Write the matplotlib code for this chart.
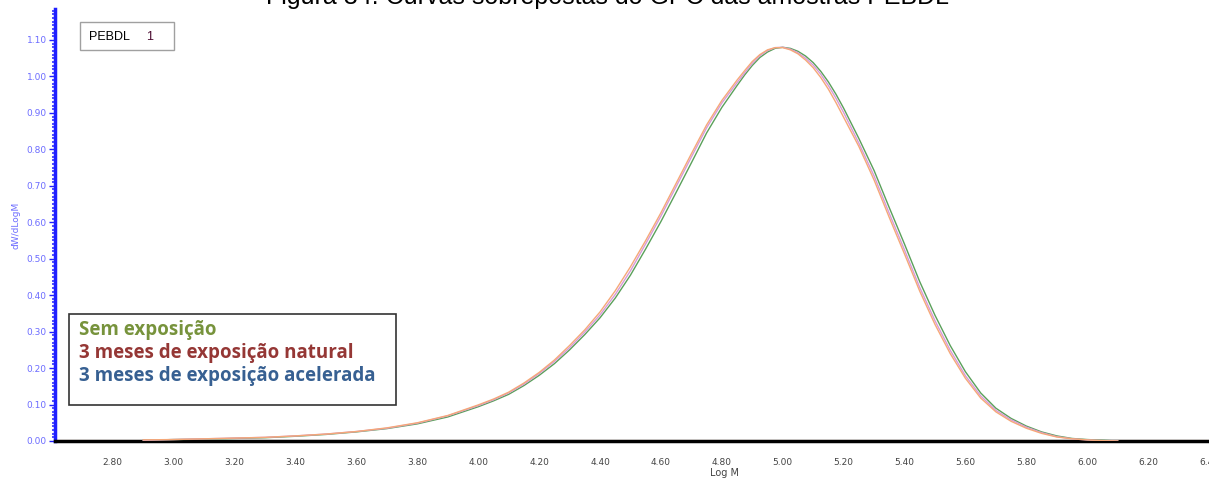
import matplotlib
matplotlib.use('Agg')
import matplotlib.pyplot as plt
from matplotlib.ticker import MultipleLocator, FormatStrFormatter
from matplotlib.patches import Rectangle

# Log M grid, finer near the peak
logM = [2.90, 3.00, 3.10, 3.20, 3.30, 3.40, 3.50, 3.60, 3.70, 3.80, 3.90,
        4.00, 4.05, 4.10, 4.15, 4.20, 4.25, 4.30, 4.35, 4.40, 4.45,
        4.50, 4.55, 4.60, 4.65, 4.70, 4.75, 4.80,
        4.85, 4.875, 4.90, 4.925, 4.95, 4.975, 5.00, 5.025, 5.05, 5.075,
        5.10, 5.125, 5.15, 5.175, 5.20,
        5.25, 5.30, 5.35, 5.40, 5.45,
        5.50, 5.55, 5.60, 5.65, 5.70, 5.75, 5.80, 5.85, 5.90, 5.95,
        6.00, 6.05, 6.10]

# dW/dLogM - Sem exposicao (green trace)
sem_exp = [0.002, 0.004, 0.005, 0.007, 0.009, 0.013, 0.018, 0.025, 0.034, 0.047, 0.066,
           0.094, 0.110, 0.128, 0.152, 0.180, 0.212, 0.250, 0.292, 0.338, 0.392,
           0.455, 0.527, 0.602, 0.682, 0.763, 0.845, 0.915,
           0.975, 1.004, 1.030, 1.052, 1.067, 1.077, 1.080, 1.077, 1.069, 1.056,
           1.038, 1.014, 0.985, 0.951, 0.913,
           0.830, 0.742, 0.640, 0.540, 0.437,
           0.345, 0.262, 0.190, 0.132, 0.090, 0.062, 0.041, 0.025, 0.014, 0.007,
           0.004, 0.002, 0.000]

# 3 meses natural (orange trace)
natural = [0.003, 0.004, 0.006, 0.008, 0.010, 0.014, 0.019, 0.026, 0.036, 0.050, 0.070,
           0.099, 0.115, 0.134, 0.159, 0.188, 0.222, 0.262, 0.305, 0.354, 0.412,
           0.478, 0.550, 0.626, 0.707, 0.788, 0.867, 0.934,
           0.990, 1.016, 1.041, 1.060, 1.073, 1.079, 1.079, 1.073, 1.062, 1.045,
           1.024, 0.997, 0.965, 0.928, 0.888,
           0.808, 0.716, 0.613, 0.513, 0.411,
           0.320, 0.240, 0.172, 0.118, 0.080, 0.054, 0.035, 0.021, 0.011, 0.006,
           0.003, 0.001, 0.000]

# 3 meses acelerada (pink trace)
acelerada = [0.002, 0.004, 0.006, 0.008, 0.010, 0.014, 0.019, 0.026, 0.035, 0.049, 0.069,
             0.097, 0.113, 0.132, 0.156, 0.185, 0.218, 0.256, 0.299, 0.346, 0.402,
             0.467, 0.541, 0.617, 0.698, 0.779, 0.859, 0.927,
             0.983, 1.010, 1.036, 1.057, 1.071, 1.079, 1.080, 1.075, 1.065, 1.050,
             1.031, 1.006, 0.975, 0.940, 0.901,
             0.817, 0.727, 0.624, 0.524, 0.421,
             0.330, 0.249, 0.179, 0.124, 0.084, 0.058, 0.038, 0.023, 0.012, 0.006,
             0.003, 0.001, 0.000]

legend_txt = ['Sem exposição', '3 meses de exposição natural', '3 meses de exposição acelerada']
legend_col = ['#77933C', '#953735', '#376092']

xticks = [2.80, 3.00, 3.20, 3.40, 3.60, 3.80, 4.00, 4.20, 4.40, 4.60, 4.80,
          5.00, 5.20, 5.40, 5.60, 5.80, 6.00, 6.20, 6.40]

fig = plt.figure(figsize=(12.09, 4.83), dpi=100)
ax = fig.add_axes([55/1209, 42/483, 1 - 55/1209, (441 - 9)/483])

ax.axhline(0, color='#f0a060', lw=1.5, zorder=2)
ax.plot(logM, sem_exp, color='#5aa05a', lw=1.0, zorder=3)
ax.plot(logM, acelerada, color='#d89ad8', lw=1.0, zorder=3)
ax.plot(logM, natural, color='#f5a878', lw=1.0, zorder=3)

ax.set_xlim(2.61, 6.39)
ax.set_ylim(0, 1.185)

for s in ['top', 'right']:
    ax.spines[s].set_visible(False)
ax.spines['left'].set_color('#2020ff')
ax.spines['left'].set_linewidth(2.5)
ax.spines['bottom'].set_color('black')
ax.spines['bottom'].set_linewidth(2.5)

ax.yaxis.set_major_locator(MultipleLocator(0.10))
ax.yaxis.set_minor_locator(MultipleLocator(0.01))
ax.yaxis.set_major_formatter(FormatStrFormatter('%.2f'))
ax.tick_params(axis='y', which='major', colors='#2020ff', labelcolor='#6c6cff',
               length=4, width=1, labelsize=6.5, pad=2)
ax.tick_params(axis='y', which='minor', colors='#3030ff', length=2, width=1.2)

ax.set_xticks(xticks)
ax.xaxis.set_major_formatter(FormatStrFormatter('%.2f'))
ax.tick_params(axis='x', length=0, labelsize=6.5, labelcolor='#444444', pad=12)
for lab in ax.get_xticklabels() + ax.get_yticklabels():
    lab.set_family(['Liberation Sans Narrow', 'DejaVu Sans'])

ax.set_ylabel('dW/dLogM', color='#6c6cff', fontsize=6.5, labelpad=4,
              family=['Liberation Sans Narrow', 'DejaVu Sans'])
ax.text(4.81, -0.075, 'Log M', ha='center', va='top', fontsize=7, color='#444444',
        family=['Liberation Sans Narrow', 'DejaVu Sans'], clip_on=False)

# sample box
fig.patches.append(Rectangle((80/1209, 1 - 50/483), 94/1209, 28/483,
                             transform=fig.transFigure, fill=False,
                             edgecolor='#a0a0a0', lw=1))
fig.text(89/1209, 1 - 37/483, 'PEBDL', fontsize=9, va='center', color='black',
         family='Liberation Sans')
fig.text(146/1209, 1 - 37/483, '1', fontsize=9, va='center', color='#4a0a30',
         family='Liberation Sans')

# legend box
fig.patches.append(Rectangle((69/1209, 1 - 405/483), 327/1209, 91/483,
                             transform=fig.transFigure, fill=False,
                             edgecolor='#333333', lw=1.2))
for i, (t, c) in enumerate(zip(legend_txt, legend_col)):
    fig.text(79/1209, 1 - (330 + 23*i)/483, t, color=c, fontsize=13.5,
             fontweight='bold', va='center', family='Open Sans')

fig.text(608/1209, 1 - 4/483, 'Figura 34. Curvas sobrepostas do GPC das amostras PEBDL',
         ha='center', va='baseline', fontsize=18, color='black', family='Liberation Sans')

fig.savefig('out.png', dpi=100)
